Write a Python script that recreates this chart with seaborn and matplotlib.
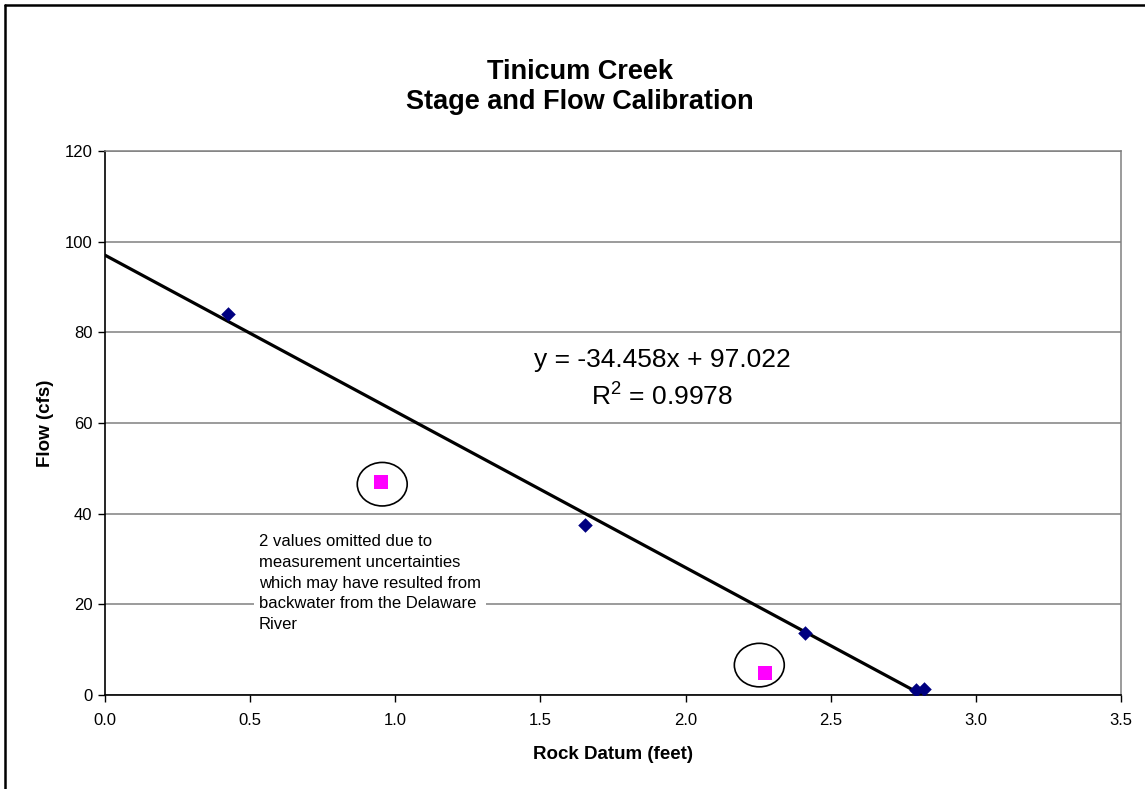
import matplotlib
matplotlib.use("Agg")
import matplotlib.pyplot as plt
from matplotlib.patches import Ellipse
from matplotlib.lines import Line2D
import numpy as np
import pandas as pd
import seaborn as sns

# Calibration measurements: stage at the rock datum vs. measured flow
stage_ft = [0.424, 1.653, 2.411, 2.794, 2.822]
flow_cfs = [84.0, 37.5, 13.6, 1.1, 1.26]

# Measurements left out of the fit (backwater influence)
omitted_stage_ft = [0.951, 2.273]
omitted_flow_cfs = [47.0, 4.85]

# Linear trendline
slope = -34.458
intercept = 97.022
r_squared = 0.9978

x_ticks = [0.0, 0.5, 1.0, 1.5, 2.0, 2.5, 3.0, 3.5]
y_ticks = [0, 20, 40, 60, 80, 100, 120]

sns.set_theme(style="white")
plt.rcParams["font.family"] = ["Liberation Sans", "DejaVu Sans"]
plt.rcParams["mathtext.fontset"] = "custom"
plt.rcParams["mathtext.rm"] = "Liberation Sans"
plt.rcParams["text.color"] = "black"
plt.rcParams["axes.labelcolor"] = "black"
plt.rcParams["xtick.color"] = "black"
plt.rcParams["ytick.color"] = "black"

fig = plt.figure(figsize=(11.45, 7.89), dpi=100)
ax = fig.add_axes([105 / 1145, 1 - 695 / 789, (1121 - 105) / 1145, (695 - 151) / 789])

# Gridlines
for yv in y_ticks:
    ax.axhline(yv, color="#808080", lw=1.1, zorder=0)

kept = pd.DataFrame({"stage": stage_ft, "flow": flow_cfs})
omitted = pd.DataFrame({"stage": omitted_stage_ft, "flow": omitted_flow_cfs})

fit_x = np.array([0.0, max(stage_ft)])
fit = pd.DataFrame({"stage": fit_x, "flow": slope * fit_x + intercept})
sns.lineplot(data=fit, x="stage", y="flow", ax=ax, color="black", lw=2.3, zorder=3)

sns.scatterplot(data=kept, x="stage", y="flow", ax=ax, marker="D", s=55,
                color="#000080", edgecolor="#000080", linewidth=0, zorder=4)
sns.scatterplot(data=omitted, x="stage", y="flow", ax=ax, marker="s", s=100,
                color="#FF00FF", edgecolor="#FF00FF", linewidth=0, zorder=4)

# Circles drawn around the omitted measurements
circle_offsets = [(0.004, -0.5), (-0.019, 1.75)]
for (cx, cy), (dx, dy) in zip(zip(omitted_stage_ft, omitted_flow_cfs), circle_offsets):
    ax.add_patch(Ellipse((cx + dx, cy + dy), width=0.172, height=9.6,
                         facecolor="none", edgecolor="black", lw=1.2, zorder=5))

ax.set_xlim(0, 3.5)
ax.set_ylim(0, 120)
ax.set_xticks(x_ticks)
ax.set_xticklabels([f"{v:.1f}" for v in x_ticks])
ax.set_yticks(y_ticks)
ax.set_yticklabels([str(v) for v in y_ticks])
ax.tick_params(axis="both", which="major", direction="out", length=5, width=1,
               color="black", labelsize=12, labelcolor="black",
               bottom=True, left=True)
ax.tick_params(axis="x", pad=8)
ax.tick_params(axis="y", pad=4)

for side in ["left", "bottom"]:
    ax.spines[side].set_color("black")
    ax.spines[side].set_linewidth(1.2)
for side in ["right", "top"]:
    ax.spines[side].set_color("#808080")
    ax.spines[side].set_linewidth(1.1)

ax.set_xlabel("Rock Datum (feet)", fontsize=13.5, fontweight="bold", labelpad=13,
              color="black")
ax.set_ylabel("Flow (cfs)", fontsize=13.5, fontweight="bold", labelpad=8,
              color="black")

# Trendline equation
ax.text(1.919, 69.7, f"y = {slope}x + {intercept}\nR$^{{2}}$ = {r_squared}",
        ha="center", va="center", fontsize=19, linespacing=1.43, zorder=6,
        color="black")

ax.text(0.530, 24.7,
        "2 values omitted due to\nmeasurement uncertainties\nwhich may have resulted from\n"
        "backwater from the Delaware\nRiver",
        ha="left", va="center", fontsize=12, linespacing=1.48, zorder=6,
        color="black",
        bbox=dict(facecolor="white", edgecolor="none", pad=3.5))

fig.text(580 / 1145, 1 - 87 / 789, "Tinicum Creek\nStage and Flow Calibration",
         ha="center", va="center", fontsize=19.5, fontweight="bold", linespacing=1.18,
         color="black")

# Chart frame
fig.add_artist(Line2D([5 / 1145, 5 / 1145], [0, 1 - 5 / 789], transform=fig.transFigure,
                      color="black", lw=1.8))
fig.add_artist(Line2D([5 / 1145, 1], [1 - 5 / 789, 1 - 5 / 789], transform=fig.transFigure,
                      color="black", lw=1.8))

fig.savefig("out.png", dpi=100, facecolor="white")
